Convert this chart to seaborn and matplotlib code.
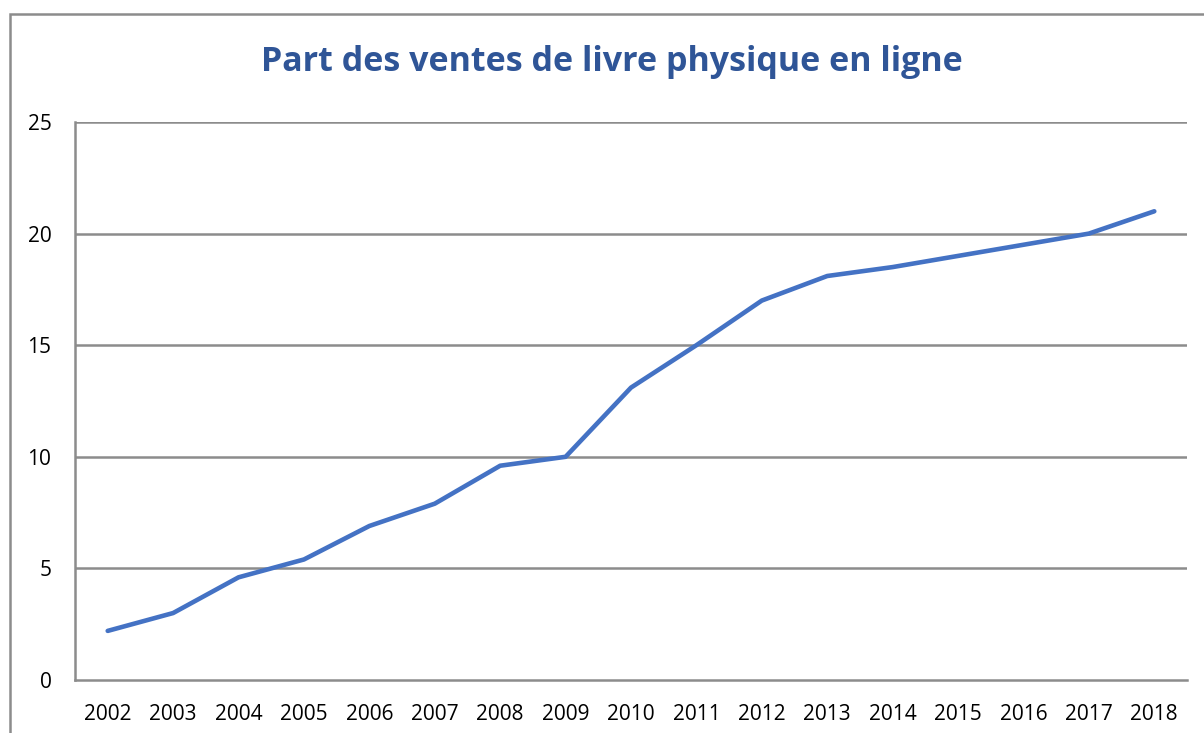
import matplotlib
matplotlib.use('Agg')
import matplotlib.pyplot as plt
import seaborn as sns
import pandas as pd
from matplotlib.patches import Rectangle

# données
annees = [2002, 2003, 2004, 2005, 2006, 2007, 2008, 2009, 2010,
          2011, 2012, 2013, 2014, 2015, 2016, 2017, 2018]
part = [2.2, 3.0, 4.6, 5.4, 6.9, 7.9, 9.6, 10.0, 13.1,
        15.0, 17.0, 18.1, 18.5, 19.0, 19.5, 20.0, 21.0]
y_ticks = [0, 5, 10, 15, 20, 25]

df = pd.DataFrame({'annee': annees, 'part': part})

sns.set_theme(style='white')
plt.rcParams['font.family'] = ['Open Sans', 'DejaVu Sans']

fig = plt.figure(figsize=(12.04, 7.33), dpi=100)
ax = fig.add_axes([75 / 1204, 1 - 680 / 733, (1187 - 75) / 1204, (680 - 122) / 733])

# cadre du graphique (coupé à droite et en bas)
fig.patches.append(Rectangle((10 / 1204, -0.05), 1.2, 1 - 14 / 733 + 0.05,
                             transform=fig.transFigure, fill=False,
                             edgecolor='#8c8c8c', linewidth=1.8))

grid_col = '#8c8c8c'
for v in y_ticks[1:]:
    ax.axhline(v, color=grid_col, linewidth=1.8, zorder=1)

sns.lineplot(data=df, x='annee', y='part', ax=ax, color='#4472C4',
             linewidth=3.3, zorder=3)

ax.set_xlim(2001.5, 2018.5)
ax.set_ylim(0, 25)
ax.set_xticks(annees)
ax.set_xticklabels([str(a) for a in annees])
ax.set_yticks(y_ticks)
ax.tick_params(axis='both', length=0, labelsize=15, colors='black')
ax.tick_params(axis='x', pad=17)
ax.tick_params(axis='y', pad=17)
ax.set_xlabel('')
ax.set_ylabel('')

for s in ['top', 'right']:
    ax.spines[s].set_visible(False)
for s in ['left', 'bottom']:
    ax.spines[s].set_color(grid_col)
    ax.spines[s].set_linewidth(1.8)

fig.text(612 / 1204, 1 - 62 / 733, 'Part des ventes de livre physique en ligne',
         ha='center', va='center', fontsize=24.5, fontweight='bold',
         color='#2F5597')

plt.savefig('out.png', dpi=100)
